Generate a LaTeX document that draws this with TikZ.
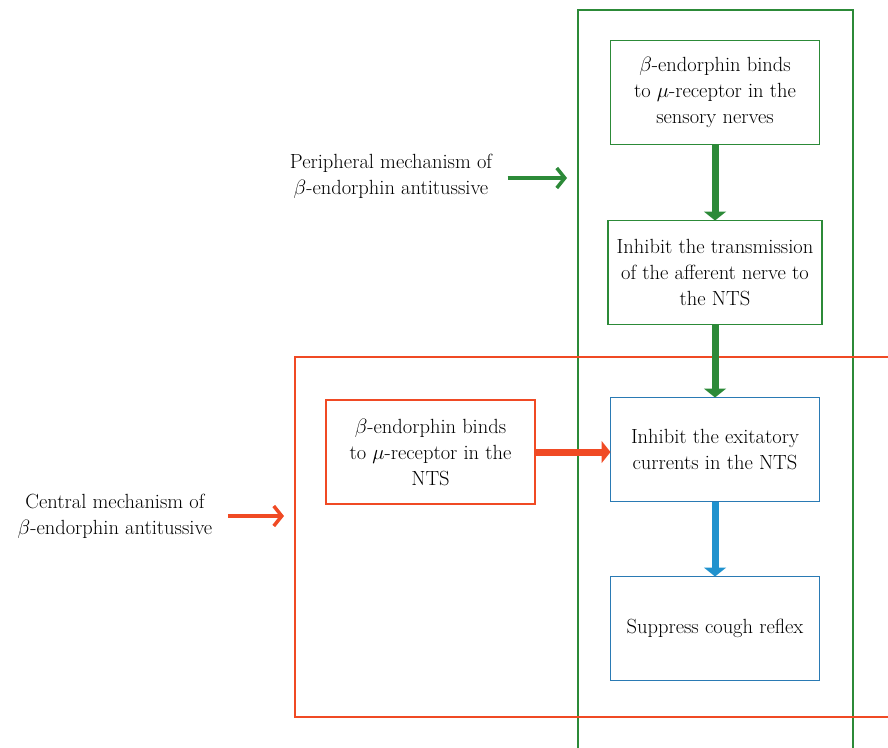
\documentclass[tikz,border=0pt]{standalone}
\usepackage{tikz}
\usepackage{amsmath}
\usepackage{xcolor}
\usetikzlibrary{positioning,arrows.meta}
\definecolor{mechgreen}{RGB}{44,138,56}
\definecolor{mechred}{RGB}{240,74,36}
\definecolor{mechblue}{RGB}{32,146,206}
\definecolor{boxblue}{RGB}{42,122,180}

\begin{document}
\begin{tikzpicture}
		[x=1pt,y=-1pt,font=\fontsize{20.5}{26}\selectfont,
		stepgreen/.style={rectangle,draw=mechgreen,line width=1.2pt,minimum width=209pt,align=center,minimum height=104pt,inner sep=3pt,outer sep=0pt},
		stepred/.style={rectangle,draw=mechred,line width=1.2pt,minimum width=209pt,align=center,minimum height=104pt,inner sep=3pt,outer sep=0pt},
		stepblue/.style={rectangle,draw=boxblue,line width=1.2pt,minimum width=209pt,align=center,minimum height=104pt,inner sep=3pt,outer sep=0pt},
		flow/.style={line width=7pt,-{Triangle[width=22pt,length=9pt]}},
		side/.style={line width=3.5pt,-{Straight Barb[width=20pt,length=8pt]}},
		node distance=75pt]
		\useasboundingbox (0,0) rectangle (888,747);

		% the two frames
		\draw [mechgreen,line width=1.2pt] (578,10) rectangle (853,760);
		\draw [mechred,line width=1.2pt] (295,357) rectangle (900,717);

		% peripheral chain
		\node [stepgreen] (b1) at (715,92.5) {$\beta$-endorphin binds\\ to $\mu$-receptor in the\\ sensory nerves};
		\node [stepgreen,minimum width=214pt] (b2) [below=76pt of b1] {Inhibit the transmission\\ of the afferent nerve to\\ the NTS};
		\node [stepblue] (b3) [below=73pt of b2] {Inhibit the exitatory\\ currents in the NTS};
		\node [stepblue] (b4) [below=of b3] {Suppress cough reflex};

		% central part
		\node [stepred] (r1) at (430.5,452) {$\beta$-endorphin binds\\ to $\mu$-receptor in the\\ NTS};

		\node [align=center] (peri) at (391,176) {Peripheral mechanism of\\ $\beta$-endorphin antitussive};
		\node [align=center] (cent) at (115,516) {Central mechanism of\\ $\beta$-endorphin antitussive};
		\coordinate (periend) at (567,178);
		\coordinate (centend) at (284,516);

		\draw [flow,mechgreen] (b1) -- (b2);
		\draw [flow,mechgreen] (b2) -- (b3);
		\draw [flow,mechblue] (b3) -- (b4);
		\draw [flow,mechred] (r1.east) -- (r1.east -| b3.west);

		\draw [side,mechgreen] (peri.east |- periend) ++(12pt,0) -- (periend);
		\draw [side,mechred] (cent.east |- centend) ++(12pt,0) -- (centend);

	\end{tikzpicture}
\end{document}
